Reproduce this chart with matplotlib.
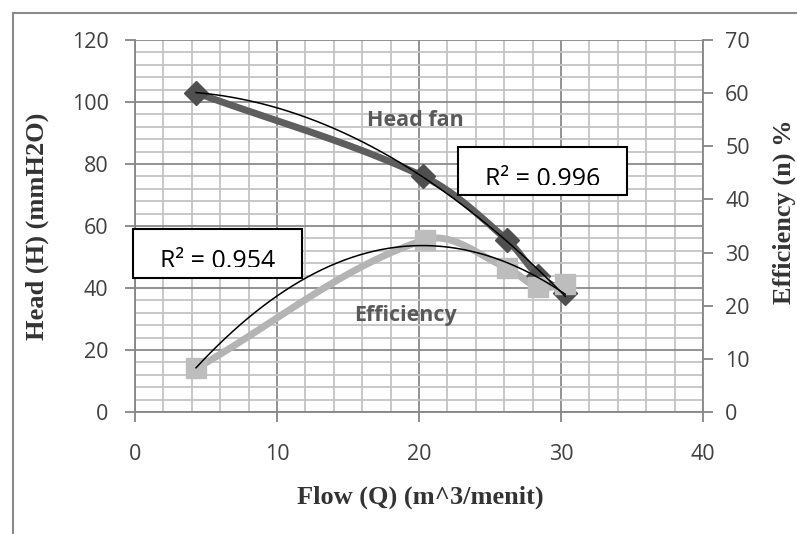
import numpy as np
import matplotlib
matplotlib.use("Agg")
import matplotlib.pyplot as plt
from matplotlib.patches import Rectangle
from matplotlib.ticker import MultipleLocator
from matplotlib.transforms import Bbox

# ---- data ----
flow_head = [4.3, 20.3, 26.2, 28.4, 30.3]
head = [103, 76, 55.5, 44, 38.5]
flow_eff = [4.3, 20.4, 26.2, 28.4, 30.3]
eff = [8.2, 32.4, 27.1, 23.5, 24.0]
x_ticks = [0, 10, 20, 30, 40]
head_ticks = [0, 20, 40, 60, 80, 100, 120]
eff_ticks = [0, 10, 20, 30, 40, 50, 60, 70]
r2_head = "0.996"
r2_eff = "0.954"

W, H = 797, 534
fig = plt.figure(figsize=(W / 100, H / 100), dpi=100)
fig.patch.set_facecolor("white")

def fx(px):
    return px / W

def fy(py):
    return 1 - py / H

L, R, T, B = 135, 703, 40, 412
ax = fig.add_axes([fx(L), fy(B), fx(R) - fx(L), fy(T) - fy(B)])
ax2 = ax.twinx()


def smooth(a, xs, ys, n=40):
    """Excel-like smoothed line: Bezier with tangents built in screen space."""
    P = a.transData.transform(np.column_stack([xs, ys]).astype(float))
    out = [P[0]]
    t = np.linspace(0, 1, n)[1:, None]

    def unit(v):
        nv = np.hypot(*v)
        return v / nv if nv > 0 else v

    for i in range(len(P) - 1):
        pm = P[i - 1] if i > 0 else P[i]
        pp = P[i + 2] if i + 2 < len(P) else P[i + 1]
        seglen = np.hypot(*(P[i + 1] - P[i]))
        c1 = P[i] + unit(P[i + 1] - pm) * seglen / 3
        c2 = P[i + 1] - unit(pp - P[i]) * seglen / 3
        seg = ((1 - t) ** 3) * P[i] + 3 * ((1 - t) ** 2) * t * c1 \
            + 3 * (1 - t) * t ** 2 * c2 + t ** 3 * P[i + 1]
        out.extend(seg)
    out = a.transData.inverted().transform(np.array(out))
    return out[:, 0], out[:, 1]


tick_family = ["Open Sans", "DejaVu Sans"]
tick_size = 15.5
tick_col = "#404040"
spine_col = "#868686"

ax.set_xlim(0, 40)
ax.set_ylim(0, 120)
ax2.set_ylim(0, 70)
ax.set_xticks(x_ticks)
ax.set_yticks(head_ticks)
ax2.set_yticks(eff_ticks)
ax.xaxis.set_minor_locator(MultipleLocator(2))
ax.yaxis.set_minor_locator(MultipleLocator(4))

ax.grid(which="major", color="#8a8a8a", lw=1.3, zorder=0)
ax.grid(which="minor", color="#c4c4c4", lw=1.3, zorder=0)
ax.set_axisbelow(True)

for a in (ax, ax2):
    for s in a.spines.values():
        s.set_visible(False)
ax.spines["left"].set_visible(True)
ax.spines["bottom"].set_visible(True)
ax2.spines["right"].set_visible(True)
for s in (ax.spines["left"], ax.spines["bottom"], ax2.spines["right"]):
    s.set_color(spine_col)
    s.set_linewidth(1.3)

ax.tick_params(axis="both", which="major", direction="out", length=7, width=1.3,
               color=spine_col, labelcolor=tick_col)
ax.tick_params(axis="x", pad=16)
ax.tick_params(axis="y", pad=12)
ax.tick_params(which="minor", length=0)
ax2.tick_params(axis="y", direction="out", length=7, width=1.3, color=spine_col,
                labelcolor=tick_col, pad=9)
for lab in ax.get_xticklabels() + ax.get_yticklabels() + ax2.get_yticklabels():
    lab.set_fontfamily(tick_family)
    lab.set_fontsize(tick_size)

# efficiency series (right axis), smoothed line
sx, sy = smooth(ax2, flow_eff, eff)
ax2.plot(sx, sy, color="#b4b4b4", lw=5, zorder=3, solid_capstyle="round")
ax2.plot(flow_eff, eff, ls="none", marker="s", ms=15, mfc="#bdbdbd", mec="#bdbdbd", zorder=3)
# head series (left axis), smoothed line
hx, hy = smooth(ax, flow_head, head)
ax.plot(hx, hy, color="#5e5e5e", lw=5, zorder=3, solid_capstyle="round")
ax.plot(flow_head, head, ls="none", marker="D", ms=12.5, mfc="#4f4f4f", mec="#4f4f4f", zorder=3)

# polynomial (order 2) trendlines
ch = np.polyfit(flow_head, head, 2)
xh = np.linspace(min(flow_head), max(flow_head), 200)
ax2.plot(xh, np.polyval(ch, xh) * 70 / 120, color="black", lw=1.1, zorder=5)
ce = np.polyfit(flow_eff, eff, 2)
xe = np.linspace(min(flow_eff), max(flow_eff), 200)
ax2.plot(xe, np.polyval(ce, xe), color="black", lw=1.1, zorder=5)

# series labels
fig.text(fx(415), fy(121), "Head fan", ha="center", va="center", color="#595959",
         fontsize=15.5, fontweight="bold", family=tick_family)
fig.text(fx(406), fy(315), "Efficiency", ha="center", va="center", color="#595959",
         fontsize=15.5, fontweight="bold", family=tick_family)

# R^2 boxes (text clipped at the bottom as in the reference)
for (x0, y0, x1, y1, val) in [(458, 147, 627, 195, r2_head), (133, 229, 302, 278, r2_eff)]:
    fig.patches.append(Rectangle((fx(x0), fy(y1)), fx(x1) - fx(x0), fy(y0) - fy(y1),
                                 transform=fig.transFigure, facecolor="white",
                                 edgecolor="black", lw=1.5, zorder=10))
    t = fig.text(fx((x0 + x1) / 2), fy(y0 + 39), "R\u00b2 = " + val, ha="center",
                 va="baseline", fontsize=18, color="black", zorder=11,
                 family=tick_family)
    t.set_clip_on(True)
    t.set_clip_box(Bbox([[x0 + 2, H - (y0 + 38)], [x1 - 2, H - (y0 + 2)]]))

# axis titles
serif = ["Liberation Serif", "DejaVu Serif"]
fig.text(fx(37), fy(226), "Head (H) (mmH2O)", rotation=90, ha="center", va="center",
         fontsize=19, fontweight="bold", color="#333333", family=serif)
fig.text(fx(784), fy(212), "Efficiency (n) %", rotation=90, ha="center", va="center",
         fontsize=19, fontweight="bold", color="#333333", family=serif)
fig.text(fx(420), fy(497), "Flow (Q) (m^3/menit)", ha="center", va="center",
         fontsize=19, fontweight="bold", color="#333333", family=serif)

# chart-area border (left/top edge visible in reference)
fig.lines.append(plt.Line2D([fx(13), fx(13)], [fy(534), fy(13)], transform=fig.transFigure,
                            color="#8a8a8a", lw=1.5))
fig.lines.append(plt.Line2D([fx(13), fx(797)], [fy(13), fy(13)], transform=fig.transFigure,
                            color="#8a8a8a", lw=1.5))

fig.savefig("out.png", dpi=100)
